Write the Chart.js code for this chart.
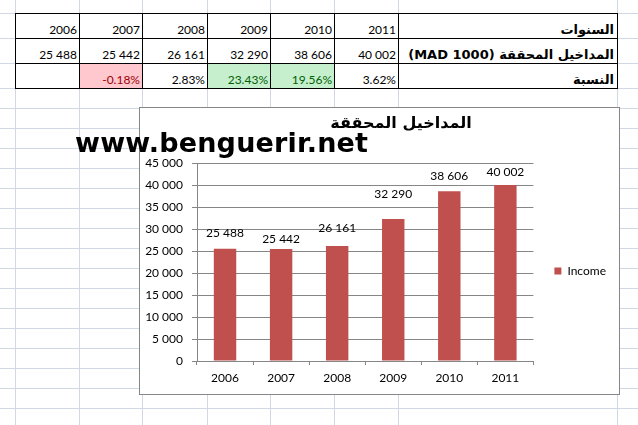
<!DOCTYPE html>
<html>
<head>
<meta charset="utf-8">
<script src="https://cdn.jsdelivr.net/npm/chart.js@4.4.1/dist/chart.umd.min.js"></script>
<style>
  html, body { margin: 0; padding: 0; background: #fff; }
  body { width: 638px; height: 425px; position: relative; overflow: hidden; font-family: Lato, "DejaVu Sans", sans-serif; }
  .gl { position: absolute; background: #d0d7e5; }
  .cell { position: absolute; box-sizing: border-box; border: 1px solid #000; background: #fff;
          display: flex; align-items: flex-end; justify-content: flex-end;
          padding: 0 2px 1px 0; font-size: 12px; color: #000; white-space: nowrap; }
  .cell.lbl { direction: rtl; justify-content: flex-start; font-family: "DejaVu Sans"; font-weight: bold; font-size: 13px; padding-right: 3px; }
  .neg { background: #ffc7ce; color: #9c0006; }
  .pos { background: #c6efce; color: #006100; }
  #chartBox { position: absolute; left: 139px; top: 107px; width: 481px; height: 288px;
              box-sizing: border-box; border: 1px solid #868686; background: #fff; }
  #wm { position: absolute; left: 75px; top: 127px; font-family: "DejaVu Sans"; font-weight: bold;
        font-size: 27px; letter-spacing: 0.2px; color: #000; white-space: nowrap; }
</style>
</head>
<body>
<div id="sheet"></div>
<div id="table"></div>
<div id="chartBox"><canvas id="chart" width="479" height="286"></canvas></div>
<div id="wm">www.benguerir.net</div>

<script>
// === Données ===
const YEARS = ["2006", "2007", "2008", "2009", "2010", "2011"];
const INCOME = [25488, 25442, 26161, 32290, 38606, 40002];
const GROWTH = [null, -0.18, 2.83, 23.43, 19.56, 3.62];
const ROW_LABELS = ["السنوات", "المداخيل المحققة (MAD 1000)", "النسبة"];
const CHART_TITLE = "المداخيل المحققة";
const SERIES_NAME = "Income";
const Y_MAX = 45000;
const Y_STEP = 5000;

// layout of the sheet (pixels)
const COL_X = [15, 79, 142, 207, 270, 334, 398, 617];
const ROW_Y = [13, 38, 63, 88];
const LABEL_GAP = [16, 10, 18, 25, 15, 13];

function fmt(v) {
    return String(v).replace(/\B(?=(\d{3})+(?!\d))/g, " ");
}

// === Fond de feuille ===
const sheet = document.getElementById("sheet");
const hLines = ROW_Y.slice();
for (let y = 108; y < 425; y += 20) hLines.push(y);
hLines.forEach(y => {
    const d = document.createElement("div");
    d.className = "gl";
    d.style.cssText = `left:0;top:${y}px;width:638px;height:1px`;
    sheet.appendChild(d);
});
COL_X.forEach(x => {
    const d = document.createElement("div");
    d.className = "gl";
    d.style.cssText = `left:${x}px;top:0;width:1px;height:425px`;
    sheet.appendChild(d);
});

// === Tableau ===
const table = document.getElementById("table");
function addCell(col, row, text, cls) {
    const d = document.createElement("div");
    d.className = "cell" + (cls ? " " + cls : "");
    d.style.left = COL_X[col] + "px";
    d.style.top = ROW_Y[row] + "px";
    d.style.width = (COL_X[col + 1] - COL_X[col] + 1) + "px";
    d.style.height = (ROW_Y[row + 1] - ROW_Y[row] + 1) + "px";
    d.textContent = text;
    table.appendChild(d);
}
YEARS.forEach((y, i) => {
    addCell(i, 0, y);
    addCell(i, 1, fmt(INCOME[i]));
    const g = GROWTH[i];
    let cls = "";
    if (g !== null && g < 0) cls = "neg";
    else if (g !== null && g > 10) cls = "pos";
    addCell(i, 2, g === null ? "" : g.toFixed(2) + "%", cls);
});
ROW_LABELS.forEach((t, r) => addCell(YEARS.length, r, t, "lbl"));

// === Étiquettes de données ===
const valueLabels = {
    id: "valueLabels",
    afterDatasetsDraw(chart) {
        const ctx = chart.ctx;
        const meta = chart.getDatasetMeta(0);
        ctx.save();
        ctx.font = "12px Lato";
        ctx.fillStyle = "#000";
        ctx.textAlign = "center";
        ctx.textBaseline = "middle";
        meta.data.forEach((bar, i) => {
            ctx.fillText(fmt(INCOME[i]), bar.x, bar.y - LABEL_GAP[i]);
        });
        ctx.restore();
    }
};

// the title sits a bit right of the chart centre in the original
const shiftTitle = {
    id: "shiftTitle",
    afterLayout(chart) {
        chart.titleBlock.left += 23;
        chart.titleBlock.right += 23;
    }
};

new Chart(document.getElementById("chart"), {
    type: "bar",
    data: {
        labels: YEARS,
        datasets: [{
            label: SERIES_NAME,
            data: INCOME,
            backgroundColor: "#c0504d",
            barPercentage: 0.4,
            categoryPercentage: 1
        }]
    },
    options: {
        responsive: false,
        animation: false,
        layout: { padding: { left: 0, right: 3, top: 0, bottom: 0 } },
        plugins: {
            title: {
                display: true,
                text: CHART_TITLE,
                color: "#000",
                font: { family: "DejaVu Sans", size: 16, weight: "bold" },
                padding: { top: 6, bottom: 29.8 }
            },
            legend: {
                position: "right",
                title: { display: true, text: " ", font: { size: 12 }, padding: { top: 12.8, bottom: 12.8 } },
                labels: {
                    boxWidth: 7,
                    boxHeight: 7,
                    padding: 21,
                    color: "#000",
                    font: { family: "Lato", size: 12 }
                }
            },
            tooltip: { enabled: false }
        },
        scales: {
            x: {
                offset: true,
                grid: { display: true, drawOnChartArea: false, drawTicks: true, tickLength: 4, color: "#868686", offset: true },
                border: { color: "#868686" },
                ticks: { color: "#000", font: { family: "Lato", size: 12 }, padding: 6, maxRotation: 0, autoSkip: false },
                afterFit(scale) { scale.height = 33; }
            },
            y: {
                min: 0,
                max: Y_MAX,
                grid: { color: "#868686", tickLength: 5 },
                border: { color: "#868686" },
                ticks: {
                    stepSize: Y_STEP,
                    color: "#000",
                    font: { family: "Lato", size: 12 },
                    padding: 9,
                    callback: v => fmt(v)
                },
                afterFit(scale) { scale.width = 57; }
            }
        }
    },
    plugins: [valueLabels, shiftTitle]
});
</script>
</body>
</html>
